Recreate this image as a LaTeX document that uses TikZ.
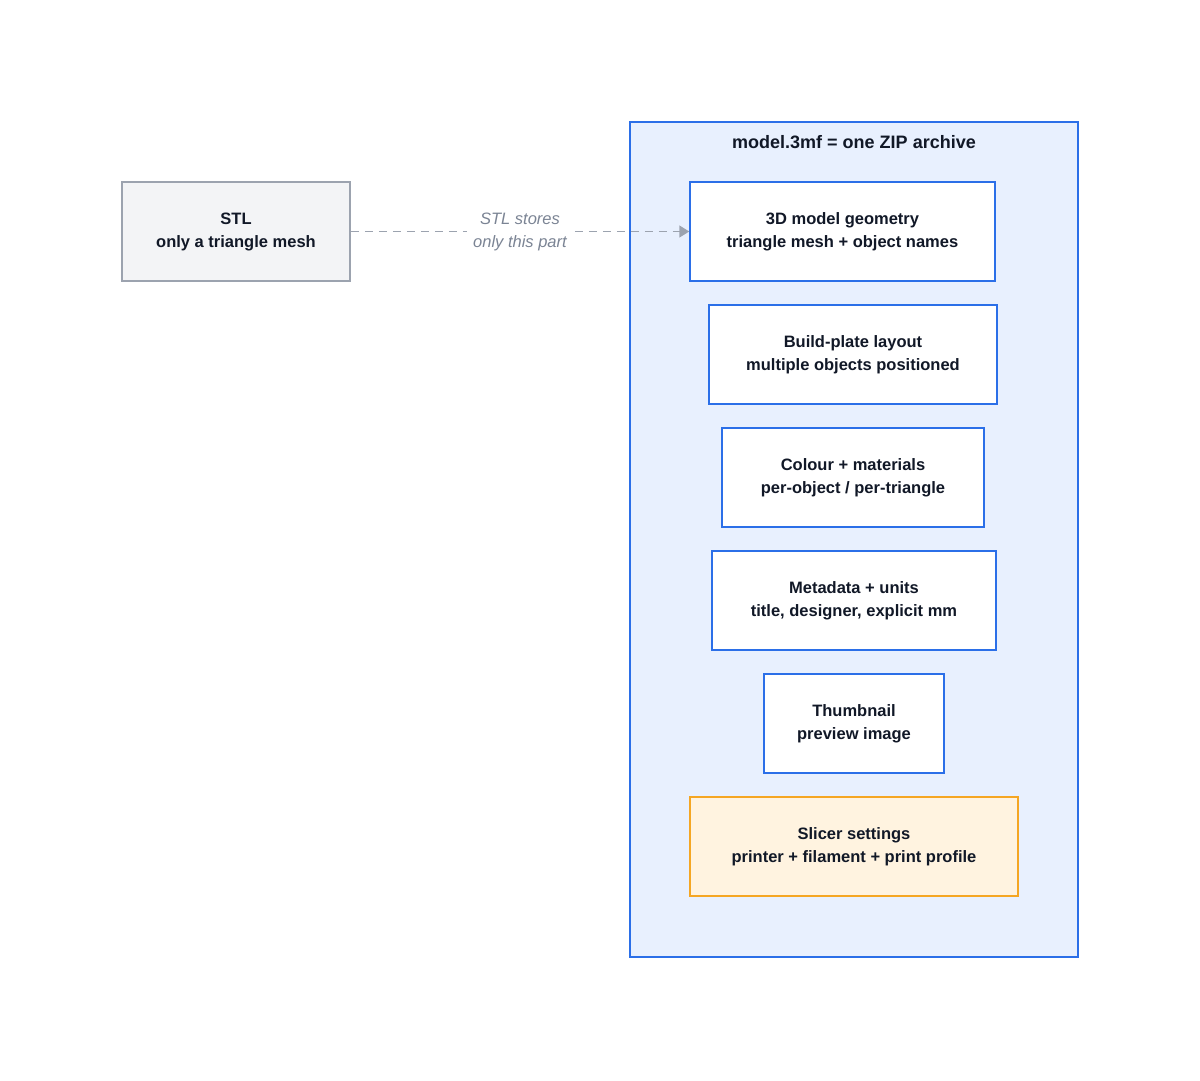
\documentclass[tikz,border=0pt]{standalone}
\usepackage{fontspec}
\setmainfont{Liberation Sans}
\usetikzlibrary{arrows.meta}
\definecolor{bblue}{HTML}{2B6FE8}
\definecolor{lblue}{HTML}{E8F0FE}
\definecolor{gbord}{HTML}{9CA3AF}
\definecolor{gfill}{HTML}{F3F4F6}
\definecolor{ofill}{HTML}{FFF3E0}
\definecolor{obord}{HTML}{F5A623}
\definecolor{txt}{HTML}{111827}
\definecolor{gtxt}{HTML}{7B8494}
\tikzset{
  box/.style={draw=bblue, line width=1.5pt, fill=white, align=center, text=txt, font=\fontsize{16.5}{23}\selectfont\bfseries, inner sep=0pt},
}
\begin{document}
\begin{tikzpicture}[x=1pt,y=-1pt]
\useasboundingbox (0,0) rectangle (1200,1080);
\node[draw=bblue, fill=lblue, line width=1.5pt, minimum width=448pt, minimum height=835pt, inner sep=0pt] (cont) at (854,539.5) {};
\node[text=txt, font=\fontsize{18}{22}\selectfont\bfseries] (title) at (854,142) {model.3mf = one ZIP archive};
\node[box, draw=gbord, fill=gfill, minimum width=228pt, minimum height=99pt] (stl) at (236,231.5) {STL\\only a triangle mesh};
\node[box, minimum width=305pt, minimum height=99pt] (geo) at (842.5,231.5) {3D model geometry\\triangle mesh + object names};
\node[box, minimum width=288pt, minimum height=99pt] (bp) at (853,354.5) {Build-plate layout\\multiple objects positioned};
\node[box, minimum width=262pt, minimum height=99pt] (col) at (853,477.5) {Colour + materials\\per-object / per-triangle};
\node[box, minimum width=284pt, minimum height=99pt] (meta) at (854,600.5) {Metadata + units\\title, designer, explicit mm};
\node[box, minimum width=180pt, minimum height=99pt] (thumb) at (854,723.5) {Thumbnail\\preview image};
\node[box, draw=obord, fill=ofill, minimum width=328pt, minimum height=99pt] (slic) at (854,846.5) {Slicer settings\\printer + filament + print profile};
\draw[gbord, line width=1.5pt, dash pattern=on 8pt off 6pt, -{Triangle[length=10pt,width=12pt]}] (stl.east) -- node[fill=white, text=gtxt, font=\fontsize{16.5}{23}\selectfont\itshape, align=center, inner xsep=6pt, inner ysep=0pt] {STL stores\\only this part} (geo.west);
\end{tikzpicture}
\end{document}
